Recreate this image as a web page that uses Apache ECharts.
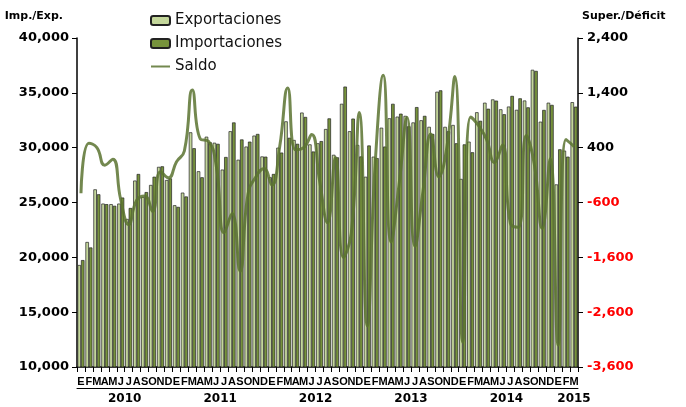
<!DOCTYPE html>
<html>
<head>
<meta charset="utf-8">
<script src="https://cdn.jsdelivr.net/npm/echarts@6/dist/echarts.min.js"></script>
<style>
    html, body { margin: 0; padding: 0; background: #fff; }
    #chart { width: 686px; height: 407px; }
</style>
</head>
<body>
<div id="chart"></div>
<script>
    // meses ene-2010 .. mar-2015
    var meses = ['E','F','M','A','M','J','J','A','S','O','N','D',
        'E','F','M','A','M','J','J','A','S','O','N','D',
        'E','F','M','A','M','J','J','A','S','O','N','D',
        'E','F','M','A','M','J','J','A','S','O','N','D',
        'E','F','M','A','M','J','J','A','S','O','N','D',
        'E','F','M'];
    var years = ['2010','2011','2012','2013','2014','2015'];
    var yearCenters = [6, 18, 30, 42, 54, 62.5];

    var exportaciones = [19300,21400,26200,24900,24850,24900,23500,27000,25500,26600,28250,27050,
        24750,25900,31400,27850,31000,30450,28000,31500,28900,30100,31100,29200,
        27300,30000,32400,30700,33200,30300,30400,31700,29350,34000,31500,30250,
        27350,29180,31820,32680,32830,32900,32300,32500,31900,35100,31900,32070,
        27150,30550,33230,34100,34400,33500,33750,33450,34300,37100,32370,34100,
        26650,29730,34150];
    var importaciones = [19750,20900,25750,24850,24700,25450,24500,27600,25950,27350,28300,27200,
        24600,25550,29950,27300,30500,30350,29150,32300,30750,30550,31250,29180,
        27600,29550,30900,30350,32800,29650,30600,32670,29120,35570,32650,29200,
        30200,29050,30100,34000,33100,31950,33700,32900,31250,35230,31500,30400,
        30300,29580,32450,33550,34290,33050,34720,34500,33680,37000,33440,33900,
        29850,29180,33740];
    var saldo = [-430,480,400,80,190,-550,-1000,-560,-480,-760,-40,-150,
        140,340,1450,560,520,80,-1150,-800,-1850,-450,-130,20,
        -280,430,1490,360,400,640,-200,-970,220,-1600,-1150,1040,
        -2850,120,1720,-1320,-270,950,-1400,-400,650,-130,400,1700,
        -3150,960,800,550,130,450,-980,-1050,620,100,-1070,200,
        -3200,550,420];

    var font = 'DejaVu Sans';
    var chart = echarts.init(document.getElementById('chart'));

    function fmt(v) {
        var s = Math.abs(v).toString().replace(/\B(?=(\d{3})+(?!\d))/g, ',');
        return (v < 0 ? '-' : '') + s;
    }

    var option = {
        animation: false,
        backgroundColor: '#fff',
        textStyle: { fontFamily: font },
        grid: { left: 77, right: 108, top: 38, bottom: 40 },
        legend: {
            orient: 'vertical',
            left: 145,
            top: 8,
            itemWidth: 19,
            itemHeight: 9,
            itemGap: 8,
            textStyle: { fontFamily: font, fontSize: 15, color: '#111' },
            data: ['Exportaciones', 'Importaciones', {
                name: 'Saldo',
                itemStyle: { opacity: 0 }
            }]
        },
        xAxis: [{
            type: 'category',
            data: meses,
            axisLine: { onZero: false, lineStyle: { color: '#000', width: 1.5 } },
            axisTick: { show: true, interval: 0, length: 5, lineStyle: { color: '#000' } },
            axisLabel: {
                interval: 0, margin: 9, color: '#000',
                fontFamily: 'Liberation Sans', fontWeight: 'bold', fontSize: 11
            },
            splitLine: { show: false }
        }, {
            type: 'value',
            position: 'bottom',
            offset: 21,
            min: 0,
            max: 63,
            interval: 0.5,
            axisLine: { show: true, onZero: false, lineStyle: { color: '#000', width: 1 } },
            axisTick: { show: false },
            splitLine: { show: false },
            axisLabel: {
                margin: 5, color: '#000', fontWeight: 'bold', fontSize: 12, fontFamily: font,
                formatter: function (v) {
                    var k = yearCenters.indexOf(v);
                    return k >= 0 ? years[k] : '';
                }
            }
        }],
        yAxis: [{
            type: 'value',
            min: 10000,
            max: 40000,
            interval: 5000,
            name: 'Imp./Exp.',
            nameGap: 16,
            nameTextStyle: { fontFamily: font, fontWeight: 'bold', fontSize: 11, color: '#000', align: 'right', padding: [0, 14, 0, 0] },
            axisLine: { show: true, onZero: false, lineStyle: { color: '#000', width: 1.5 } },
            axisTick: { show: true, length: 5, lineStyle: { color: '#000' } },
            splitLine: { show: false },
            axisLabel: { margin: 8, color: '#000', fontWeight: 'bold', fontSize: 13, formatter: fmt }
        }, {
            type: 'value',
            min: -3600,
            max: 2400,
            interval: 1000,
            position: 'right',
            name: 'Super./Déficit',
            nameGap: 16,
            nameTextStyle: { fontFamily: font, fontWeight: 'bold', fontSize: 11, color: '#000', align: 'left', padding: [0, 0, 0, 4] },
            axisLine: { show: true, onZero: false, lineStyle: { color: '#000', width: 1.5 } },
            axisTick: { show: true, length: 5, lineStyle: { color: '#000' } },
            splitLine: { show: false },
            axisLabel: {
                margin: 9, fontWeight: 'bold', fontSize: 13, formatter: fmt,
                color: function (v) { return Number(v) < 0 ? '#ff0000' : '#000'; }
            }
        }],
        series: [{
            name: 'Exportaciones',
            type: 'bar',
            data: exportaciones,
            barGap: '0%',
            barCategoryGap: '12%',
            itemStyle: { color: '#c4d79b', borderColor: '#222', borderWidth: 0.7 }
        }, {
            name: 'Importaciones',
            type: 'bar',
            data: importaciones,
            itemStyle: { color: '#77933c', borderColor: '#222', borderWidth: 0.7 }
        }, {
            name: 'Saldo',
            type: 'line',
            yAxisIndex: 1,
            data: saldo,
            smooth: 0.5,
            showSymbol: false,
            symbol: 'none',
            z: 5,
            itemStyle: { color: '#5b7330' },
            lineStyle: { color: '#5b7330', width: 3, opacity: 0.85 }
        }]
    };

    chart.setOption(option);
</script>
</body>
</html>
